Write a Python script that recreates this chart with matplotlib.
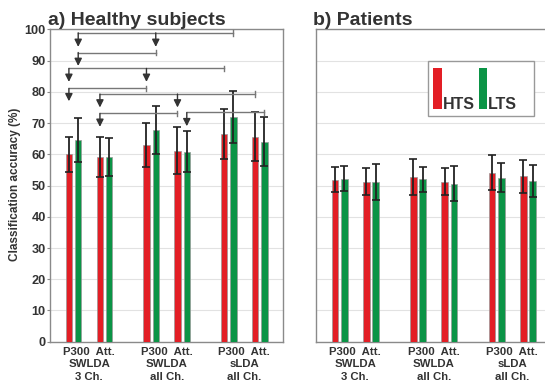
import numpy as np
import matplotlib
matplotlib.use("Agg")
import matplotlib.pyplot as plt
from matplotlib.patches import Rectangle

plt.rcParams["font.family"] = ["Liberation Sans", "DejaVu Sans"]
plt.rcParams["font.weight"] = "bold"

# classifier / feature groups (two bar pairs per group)
group_labels = ["P300  Att.\nSWLDA\n3 Ch.", "P300  Att.\nSWLDA\nall Ch.", "P300  Att.\nsLDA\nall Ch."]
pair_pos = [0, 1, 2.5, 3.5, 5, 6]

# healthy subjects: mean accuracy and error per pair (P300, Att. for each group)
healthy_hts = [60.0, 59.2, 62.9, 61.1, 66.6, 65.7]
healthy_hts_err = [5.6, 6.4, 7.0, 7.5, 8.0, 7.9]
healthy_lts = [64.6, 59.2, 67.8, 60.9, 71.9, 64.0]
healthy_lts_err = [7.0, 6.1, 7.8, 6.7, 8.3, 7.8]

# patients
patient_hts = [51.8, 51.3, 52.7, 51.2, 54.1, 53.0]
patient_hts_err = [4.0, 4.3, 5.7, 4.3, 5.6, 5.3]
patient_lts = [52.2, 51.1, 52.0, 50.6, 52.5, 51.4]
patient_lts_err = [4.0, 5.7, 4.1, 5.7, 4.7, 5.1]

# significance brackets (healthy): (series, higher pair, lower pairs, line level, arrow tip)
brackets = [
    ("LTS", 4, [0, 2], 98.9, 94.4),
    ("LTS", 2, [0], 92.6, 88.3),
    ("HTS", 4, [0, 2], 87.5, 83.2),
    ("HTS", 2, [0], 81.1, 77.0),
    ("HTS", 5, [1, 3], 79.3, 75.0),
    ("HTS", 3, [1], 73.1, 68.8),
    ("LTS", 5, [3], 73.4, 69.0),
]

RED = "#e31e25"
GREEN = "#0b9446"
TXT = "#333333"
SPINE = "#8a8a8a"
off = 0.15
bw = 0.21

fig = plt.figure(figsize=(5.45, 3.87), dpi=100)
ax1 = fig.add_axes([0.0917, 0.117, 0.4275, 0.807])
ax2 = fig.add_axes([0.5793, 0.117, 0.4327, 0.807])


def draw_panel(ax, hts, hts_err, lts, lts_err, title):
    x = np.array(pair_pos, dtype=float)
    ek = dict(ecolor="#222222", elinewidth=1.3, capsize=3, capthick=1.2)
    ax.bar(x - off, hts, bw, yerr=hts_err, color=RED, edgecolor="#999999",
           linewidth=0.5, error_kw=ek, zorder=3)
    ax.bar(x + off, lts, bw, yerr=lts_err, color=GREEN, edgecolor="#999999",
           linewidth=0.5, error_kw=ek, zorder=3)
    ax.set_xlim(-0.76, 6.75)
    ax.set_ylim(0, 100)
    ax.set_yticks(np.arange(0, 101, 10))
    ax.yaxis.grid(True, color="#e2e2e2", linewidth=0.8, zorder=0)
    ax.set_axisbelow(True)
    centers = [(pair_pos[2 * i] + pair_pos[2 * i + 1]) / 2 for i in range(3)]
    ax.set_xticks(centers)
    ax.set_xticklabels(group_labels, fontsize=8.2, fontweight="bold", color=TXT,
                       linespacing=1.32)
    ax.tick_params(axis="x", length=0, pad=3.5)
    ax.tick_params(axis="y", length=2, color=SPINE, labelsize=9.2, labelcolor=TXT, pad=1)
    for s in ax.spines.values():
        s.set_color(SPINE)
        s.set_linewidth(1.0)
    ax.set_title(title, loc="left", fontsize=14, fontweight="bold", color=TXT,
                 pad=1, x=-0.01)


draw_panel(ax1, healthy_hts, healthy_hts_err, healthy_lts, healthy_lts_err,
           "a) Healthy subjects")
draw_panel(ax2, patient_hts, patient_hts_err, patient_lts, patient_lts_err,
           "b) Patients")
ax2.set_yticklabels([])
ax2.tick_params(axis="y", length=0)

ax1.set_ylabel("Classification accuracy (%)", fontsize=8.5, fontweight="bold", color=TXT)
ax1.yaxis.set_label_coords(-0.125, 0.503)

# significance brackets
for series, hi, lows, level, tip in brackets:
    sx = -off if series == "HTS" else off
    xh = pair_pos[hi] + sx
    xl = [pair_pos[i] + sx for i in lows]
    ax1.plot([min(xl), xh], [level, level], color="#777777", lw=1.0, zorder=4)
    ax1.plot([xh, xh], [level - 0.85, level + 0.85], color="#777777", lw=1.0, zorder=4)
    for xa in xl:
        ax1.annotate("", xy=(xa, tip), xytext=(xa, level),
                     arrowprops=dict(arrowstyle="-|>", color="#333333", lw=1.0,
                                     mutation_scale=11, shrinkA=0, shrinkB=0),
                     zorder=4)

# legend box in patients panel
ax2.add_patch(Rectangle((0.4775, 0.7227), 0.4485, 0.1763, transform=ax2.transAxes,
                        facecolor="white", edgecolor="#999999", linewidth=1.0, zorder=5))
ax2.add_patch(Rectangle((0.499, 0.745), 0.038, 0.133, transform=ax2.transAxes,
                        facecolor=RED, edgecolor="none", zorder=6))
ax2.add_patch(Rectangle((0.691, 0.745), 0.037, 0.133, transform=ax2.transAxes,
                        facecolor=GREEN, edgecolor="none", zorder=6))
ax2.text(0.540, 0.744, "HTS", transform=ax2.transAxes, fontsize=11.5, fontweight="bold",
         color=TXT, ha="left", va="baseline", zorder=7)
ax2.text(0.731, 0.744, "LTS", transform=ax2.transAxes, fontsize=11.5, fontweight="bold",
         color=TXT, ha="left", va="baseline", zorder=7)

fig.savefig("out.png", dpi=100)
